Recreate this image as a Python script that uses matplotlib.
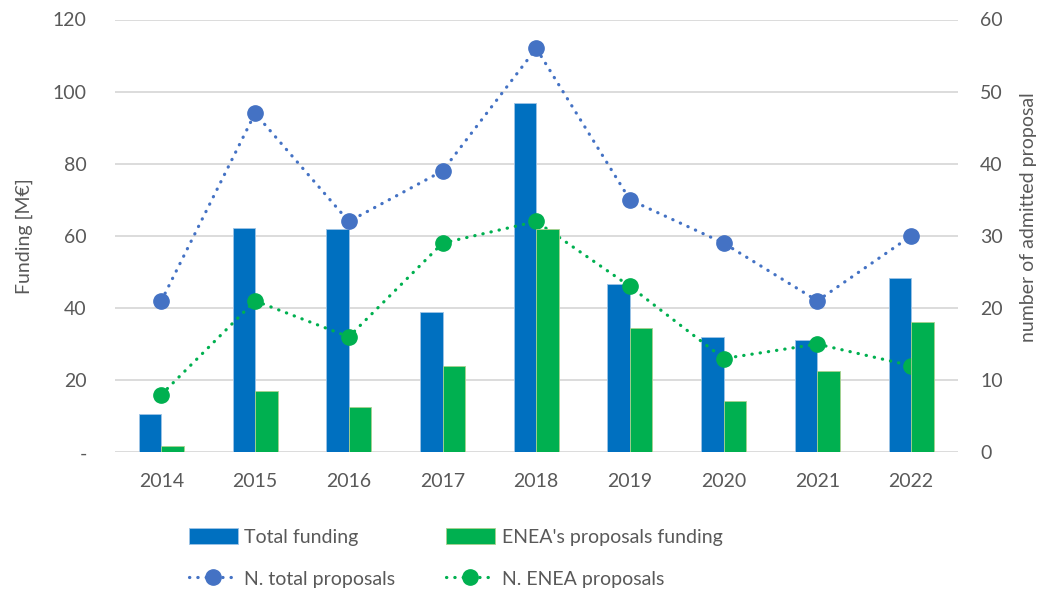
import matplotlib
matplotlib.use("Agg")
import matplotlib.pyplot as plt
import numpy as np

years = ["2014", "2015", "2016", "2017", "2018", "2019", "2020", "2021", "2022"]
total_funding = [10.6, 62.1, 62.0, 38.8, 96.8, 46.6, 31.9, 31.1, 48.4]
enea_funding = [1.8, 16.9, 12.6, 24.0, 61.8, 34.4, 14.1, 22.5, 36.2]
n_total = [21, 47, 32, 39, 56, 35, 29, 21, 30]
n_enea = [8, 21, 16, 29, 32, 23, 13, 15, 12]
left_ticks = [0, 20, 40, 60, 80, 100, 120]
left_ticklabels = ["-", "20", "40", "60", "80", "100", "120"]
right_ticks = [0, 10, 20, 30, 40, 50, 60]

plt.rcParams['font.family'] = ['Lato', 'DejaVu Sans']
TXT = '#595959'
BLUE = '#0070C0'
GREEN = '#00B050'
LBLUE = '#4472C4'
GRID = '#D9D9D9'
FS = 14

fig = plt.figure(figsize=(10.42, 5.92), dpi=100)
W, H = 1042, 592
x0, x1, y0, y1 = 114.5, 958, 19.5, 452.3
ax = fig.add_axes([x0 / W, 1 - y1 / H, (x1 - x0) / W, (y1 - y0) / H])
ax2 = ax.twinx()
ax3 = ax.twinx()

x = np.arange(len(years))
bw = 0.24
b1 = ax.bar(x - bw / 2, total_funding, bw, color=BLUE, edgecolor='#9DC3E6', linewidth=0.6,
            label='Total funding', zorder=2)
b2 = ax3.bar(x + bw / 2, enea_funding, bw, color=GREEN, edgecolor='#A9D18E', linewidth=0.6,
             label="ENEA's proposals funding", zorder=2)
l1, = ax2.plot(x, n_total, color=LBLUE, lw=2.3, ls=(0, (0.1, 2.5)), dash_capstyle='round',
               marker='o', ms=11, label='N. total proposals')
l2, = ax2.plot(x, n_enea, color=GREEN, lw=2.3, ls=(0, (0.1, 2.5)), dash_capstyle='round',
               marker='o', ms=11, label='N. ENEA proposals')

for a in (ax, ax2, ax3):
    a.set_xlim(-0.5, len(years) - 0.5)
    for s in a.spines.values():
        s.set_visible(False)
ax.set_ylim(0, 120)
ax3.set_ylim(0, 120)
ax2.set_ylim(0, 60)
ax3.set_yticks([])
ax3.patch.set_visible(False)
ax2.patch.set_visible(False)

ax.set_yticks(left_ticks)
ax.set_yticklabels(left_ticklabels)
ax2.set_yticks(right_ticks)
ax.set_xticks(x)
ax.set_xticklabels(years)
ax.grid(axis='y', color=GRID, lw=1.3)
ax.set_axisbelow(True)
ax.tick_params(axis='y', length=0, pad=20, labelsize=FS, labelcolor=TXT)
ax.tick_params(axis='x', length=0, pad=15, labelsize=FS, labelcolor=TXT)
ax2.tick_params(axis='y', length=0, pad=16, labelsize=FS, labelcolor=TXT)

ax.set_ylabel('Funding [M€]', fontsize=FS, color=TXT)
ax.yaxis.set_label_coords(-0.0966, 0.5)
ax2.set_ylabel('number of admitted proposal', fontsize=FS, color=TXT)
ax2.yaxis.set_label_coords(1.0735, 0.544)

fig.legend([b1, l1, b2, l2],
           ['Total funding', 'N. total proposals', "ENEA's proposals funding", 'N. ENEA proposals'],
           ncol=2, loc='upper left', bbox_to_anchor=(189 / W, 1 - 528 / H), frameon=False,
           fontsize=FS, labelcolor=TXT, borderpad=0, borderaxespad=0, handlelength=2.5,
           handletextpad=0.35, columnspacing=2.6, labelspacing=1.25, handleheight=0.9)

fig.savefig('out.png', dpi=100)
